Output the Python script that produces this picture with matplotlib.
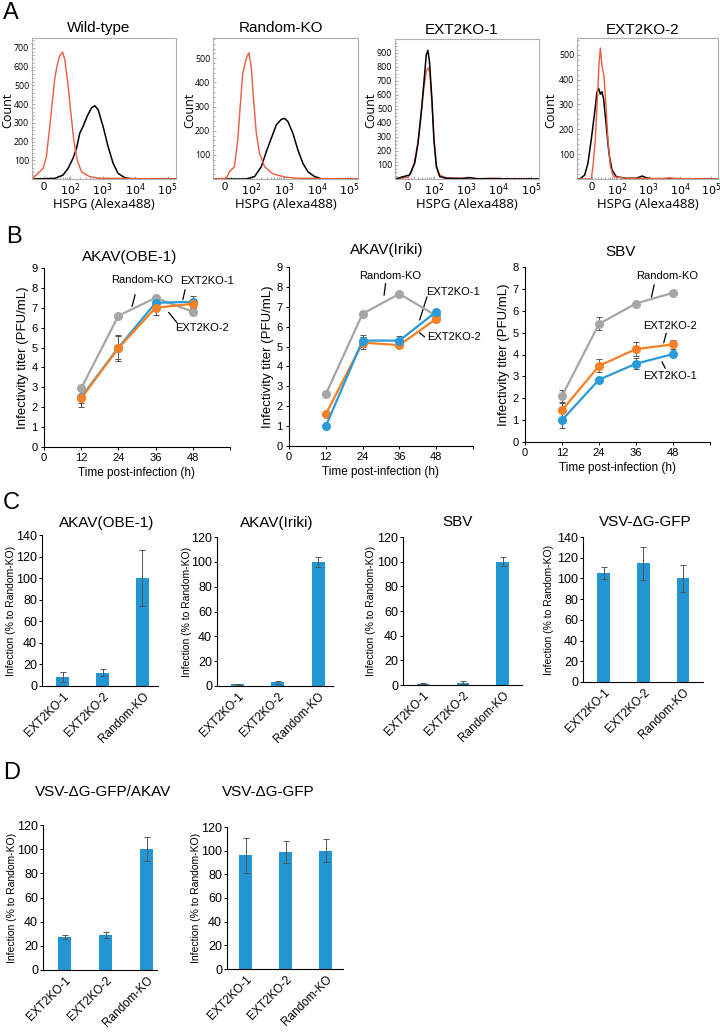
import matplotlib
matplotlib.use("Agg")
import matplotlib.pyplot as plt

# ---------------- data ----------------
hist_titles = ["Wild-type", "Random-KO", "EXT2KO-1", "EXT2KO-2"]

# panel A: flow cytometry histograms (intensity, count)
wt_ctrl_x = [-34, -1, 9, 17, 28, 33, 39, 47, 58, 68, 82, 102, 128, 163, 221, 400, 811, 180000]
wt_ctrl_y = [0, 57, 120, 245, 423, 530, 602, 655, 677, 637, 530, 370, 209, 102, 39, 12, 4, 0]
wt_hspg_x = [-34, 33, 60, 86, 122, 156, 197, 248, 330, 451, 569, 720, 1026, 1462, 2083, 2968, 4755, 8590, 180000]
wt_hspg_y = [0, 3, 21, 57, 111, 164, 245, 280, 334, 379, 391, 370, 280, 173, 84, 30, 7, 0, 0]

rko_ctrl_x = [-34, 5, 15, 30, 38, 45, 54, 69, 83, 98, 116, 140, 176, 251, 451, 1159, 2960, 180000]
rko_ctrl_y = [0, 3, 30, 51, 162, 300, 438, 500, 523, 465, 327, 189, 106, 51, 21, 7, 3, 0]
rko_hspg_x = [-34, 69, 124, 199, 283, 403, 573, 815, 1028, 1297, 1844, 2622, 3727, 5300, 8490, 13600, 180000]
rko_hspg_y = [0, 0, 10, 51, 113, 169, 224, 247, 251, 238, 189, 120, 65, 30, 10, 1, 0]

ko1_ctrl_x = [-38, 0, 10, 21, 31, 39, 47, 56, 64, 72, 84, 97, 115, 146, 237, 3000, 6600, 15000, 180000]
ko1_ctrl_y = [0, 12, 45, 130, 270, 480, 650, 770, 795, 760, 540, 280, 100, 28, 8, 2, 6, 2, 0]
ko1_hspg_x = [-38, 5, 21, 31, 39, 47, 56, 63, 71, 84, 97, 115, 146, 237, 700, 1268, 2000, 180000]
ko1_hspg_y = [0, 29, 112, 255, 470, 685, 888, 919, 828, 566, 279, 88, 17, 5, 3, 10, 2, 0]

ko2_ctrl_x = [-44, -1, 4.3, 12, 18.4, 23.5, 28, 32.2, 37.3, 42.2, 50, 59.8, 76, 194, 3000, 4650, 7000, 165000]
ko2_ctrl_y = [0, 0, 50, 159, 321, 457, 527, 457, 416, 321, 159, 50, 9, 3, 2, 5, 2, 0]
ko2_hspg_x = [-44, -36, -22, -11.6, -1, 9.8, 17.1, 22.6, 28, 32.2, 36.5, 44.4, 53.9, 67, 93, 194, 404, 628, 846, 1370, 165000]
ko2_hspg_y = [0, 0, 16, 64, 159, 267, 348, 364, 341, 351, 321, 213, 104, 37, 9, 3, 3, 12, 5, 0, 0]

hist_ymax = [752, 584, 1000, 567]
hist_yticks = [range(100, 701, 100), range(100, 501, 100), range(100, 901, 100), range(100, 501, 100)]

# panel B: growth curves (log10 PFU/mL)
time_h = [12, 24, 36, 48]
obe_rko = [2.95, 6.6, 7.5, 6.8]
obe_rko_err = [0.1, 0.05, 0.1, 0.15]
obe_ko1 = [2.5, 5.0, 7.25, 7.3]
obe_ko1_err = [0.3, 0.6, 0.3, 0.3]
obe_ko2 = [2.45, 4.97, 7.0, 7.2]
obe_ko2_err = [0.43, 0.65, 0.35, 0.15]

iriki_rko = [2.6, 6.65, 7.65, 6.55]
iriki_rko_err = [0.08, 0.15, 0.05, 0.1]
iriki_ko1 = [1.0, 5.3, 5.3, 6.75]
iriki_ko1_err = [0.05, 0.3, 0.25, 0.1]
iriki_ko2 = [1.6, 5.2, 5.07, 6.4]
iriki_ko2_err = [0.15, 0.3, 0.15, 0.15]

sbv_rko = [2.1, 5.4, 6.33, 6.82]
sbv_rko_err = [0.28, 0.3, 0.08, 0.05]
sbv_ko1 = [1.0, 2.85, 3.58, 4.02]
sbv_ko1_err = [0.35, 0.1, 0.25, 0.1]
sbv_ko2 = [1.45, 3.48, 4.25, 4.46]
sbv_ko2_err = [0.35, 0.3, 0.3, 0.22]

# panels C / D: infection relative to Random-KO (%)
bar_labels = ["EXT2KO-1", "EXT2KO-2", "Random-KO"]
c_obe = [8.5, 12.5, 100]
c_obe_err = [4.5, 3, 26]
c_iriki = [1.5, 3, 100]
c_iriki_err = [0.5, 1, 4]
c_sbv = [1, 2, 100]
c_sbv_err = [0.5, 1, 3.5]
c_vsv = [105.5, 114.5, 100]
c_vsv_err = [6, 16, 13]
d_vsv_akav = [27.5, 29, 100]
d_vsv_akav_err = [1.5, 2.5, 10]
d_vsv = [96, 99, 100]
d_vsv_err = [15, 9, 9.5]

# ---------------- figure ----------------
W, H = 720, 1034
plt.rcParams["font.family"] = ["Liberation Sans", "DejaVu Sans"]
fig = plt.figure(figsize=(W / 100, H / 100), dpi=100)

GRAY = "#A6A6A6"
BLUE = "#2A9BD8"
ORANGE = "#F58025"
BAR = "#2196D3"
RED = "#EE5A40"
FLOW_FONT = ["Open Sans", "DejaVu Sans"]


def add_ax(l, t, r, b):
    return fig.add_axes([l / W, 1 - b / H, (r - l) / W, (b - t) / H])


def ftext(x, y, s, **kw):
    kw.setdefault("ha", "center")
    kw.setdefault("va", "center")
    fig.text(x / W, 1 - y / H, s, **kw)


# panel letters
for letter, (x, y) in zip("ABCD", [(11, 13), (14, 237), (11, 503), (12, 773)]):
    ftext(x, y, letter, fontsize=17)

# ===== A: histograms =====
hist_boxes = [(32, 38, 176, 179), (213, 38, 358, 179), (395, 39, 539, 179), (577, 38, 718, 179)]
hist_xlim = [(-34, 1.8e5), (-34, 1.8e5), (-38, 1.8e5), (-44, 1.65e5)]
hist_data = [
    (wt_ctrl_x, wt_ctrl_y, wt_hspg_x, wt_hspg_y),
    (rko_ctrl_x, rko_ctrl_y, rko_hspg_x, rko_hspg_y),
    (ko1_ctrl_x, ko1_ctrl_y, ko1_hspg_x, ko1_hspg_y),
    (ko2_ctrl_x, ko2_ctrl_y, ko2_hspg_x, ko2_hspg_y),
]
title_y = [28, 28, 30, 30]
ylab_x = [9, 191, 372, 552]
minor_x = [m * 10 ** k for k in range(1, 5) for m in range(2, 10)] + [-20, -10, 10, 20]

for i, box in enumerate(hist_boxes):
    ax = add_ax(*box)
    cx, cy, hx, hy = hist_data[i]
    if i == 2:
        ax.plot(cx, cy, color=RED, lw=1.0)
        ax.plot(hx, hy, color="black", lw=1.1)
    else:
        ax.plot(hx, hy, color="black", lw=1.1)
        ax.plot(cx, cy, color=RED, lw=1.0)
    ax.set_xscale("symlog", linthresh=30, linscale=0.27)
    ax.set_xlim(*hist_xlim[i])
    ax.set_ylim(0, hist_ymax[i])
    ax.set_xticks([0, 1e2, 1e3, 1e4, 1e5])
    ax.set_xticklabels(["0", "$10^2$", "$10^3$", "$10^4$", "$10^5$"], fontsize=8)
    ax.set_xticks(minor_x, minor=True)
    ax.set_yticks(list(hist_yticks[i]))
    ax.set_yticklabels([str(v) for v in hist_yticks[i]], fontsize=6.3, family=FLOW_FONT)
    ax.set_yticks(range(0, hist_ymax[i], 20 if hist_ymax[i] < 800 else 25), minor=True)
    ax.tick_params(which="both", direction="in", color="#999999", length=2, width=0.6, pad=2)
    ax.tick_params(which="minor", length=1.5)
    for sp in ax.spines.values():
        sp.set_color("#B0B0B0")
        sp.set_linewidth(0.8)
    ax.set_xlabel("HSPG (Alexa488)", fontsize=9.5, family=FLOW_FONT, labelpad=0)
    ftext((box[0] + box[2]) / 2 - 5, title_y[i], hist_titles[i], fontsize=11)
    ftext(ylab_x[i] - 1, 110, "Count", rotation=90, fontsize=9, family=FLOW_FONT)

# ===== B: growth curves =====
line_boxes = [(44, 268, 230, 447), (289, 267, 473, 446), (525, 267, 710, 442)]
line_sets = [
    [(obe_rko, obe_rko_err, GRAY), (obe_ko1, obe_ko1_err, BLUE), (obe_ko2, obe_ko2_err, ORANGE)],
    [(iriki_rko, iriki_rko_err, GRAY), (iriki_ko2, iriki_ko2_err, ORANGE), (iriki_ko1, iriki_ko1_err, BLUE)],
    [(sbv_rko, sbv_rko_err, GRAY), (sbv_ko1, sbv_ko1_err, BLUE), (sbv_ko2, sbv_ko2_err, ORANGE)],
]
line_titles = [("AKAV(OBE-1)", 130, 257), ("AKAV(Iriki)", 387, 250), ("SBV", 621, 252)]
line_ymax = [9, 9, 8]
# (label, text x, text y, leader start, leader end) in data units
line_notes = [
    [("Random-KO", 31.6, 8.42, (29.4, 7.66), (28.4, 7.07)),
     ("EXT2KO-1", 52.5, 8.33, (45.5, 7.91), (44.8, 7.41)),
     ("EXT2KO-2", 50.9, 6.0, (40.2, 6.77), (42.9, 6.25))],
    [("Random-KO", 33.1, 8.53, (31.5, 8.17), (31.0, 7.58)),
     ("EXT2KO-1", 53.5, 7.75, (45.0, 7.5), (42.6, 6.34)),
     ("EXT2KO-2", 53.8, 5.49, (42.6, 5.69), (44.2, 5.49))],
    [("Random-KO", 46.1, 7.6, (41.9, 7.19), (41.0, 6.62)),
     ("EXT2KO-2", 47.1, 5.31, (45.8, 4.97), (45.0, 4.54)),
     ("EXT2KO-1", 47.1, 3.01, (44.4, 3.67), (45.5, 3.37))],
]

for i, box in enumerate(line_boxes):
    ax = add_ax(*box)
    for vals, errs, col in line_sets[i]:
        ax.errorbar(time_h, vals, yerr=errs, color=col, lw=1.6, marker="o", ms=5.5,
                    ecolor="#555555", elinewidth=0.7, capsize=2, capthick=0.7, zorder=3)
    ax.set_xlim(0, 60)
    ax.set_ylim(0, line_ymax[i])
    ax.set_xticks([0, 12, 24, 36, 48])
    ax.set_xticks([60], minor=True)
    ax.set_yticks(range(0, line_ymax[i] + 1))
    ax.tick_params(which="both", labelsize=8, length=2.5, width=0.7, pad=2)
    for sp in ["top", "right"]:
        ax.spines[sp].set_visible(False)
    for sp in ["left", "bottom"]:
        ax.spines[sp].set_linewidth(0.8)
    ax.set_xlabel("Time post-infection (h)", fontsize=8.5, labelpad=3)
    ax.set_ylabel("Infectivity titer (PFU/mL)", fontsize=9.5, labelpad=2)
    for lab, tx, ty, p0, p1 in line_notes[i]:
        ax.text(tx, ty, lab, fontsize=8, ha="center", va="center", clip_on=False)
        ax.annotate("", xy=p1, xytext=p0,
                    arrowprops=dict(arrowstyle="-", color="black", lw=0.9,
                                    shrinkA=0, shrinkB=0))
    t, tx, ty = line_titles[i]
    ftext(tx, ty, t, fontsize=11)

# ===== C / D: bar charts =====
bar_boxes = [
    (42, 535, 158, 686), (217, 537, 333, 686), (403, 537, 522, 685), (583, 537, 703, 682),
    (43, 825, 157, 970), (227, 827, 343, 969),
]
bar_sets = [
    (c_obe, c_obe_err, 140), (c_iriki, c_iriki_err, 120), (c_sbv, c_sbv_err, 120),
    (c_vsv, c_vsv_err, 140), (d_vsv_akav, d_vsv_akav_err, 120), (d_vsv, d_vsv_err, 120),
]
bar_titles = [
    ("AKAV(OBE-1)", 107, 523), ("AKAV(Iriki)", 277, 523), ("SBV", 458, 522),
    ("VSV-ΔG-GFP", 645, 522), ("VSV-ΔG-GFP/AKAV", 103, 792), ("VSV-ΔG-GFP", 268, 792),
]
bar_xlim = [(-0.52, 2.39), (-0.51, 2.37), (-0.5, 2.48), (-0.52, 2.5), (-0.53, 2.25), (-0.47, 2.43)]
bar_ylab_x = [11, 187, 371, 549, 12, 196]

for i, box in enumerate(bar_boxes):
    ax = add_ax(*box)
    vals, errs, ymax = bar_sets[i]
    ax.bar(range(len(bar_labels)), vals, width=0.32, color=BAR, zorder=2)
    ax.errorbar(range(len(bar_labels)), vals, yerr=errs, fmt="none", ecolor="#555555",
                elinewidth=0.7, capsize=2, capthick=0.7, zorder=3)
    ax.set_xlim(*bar_xlim[i])
    ax.set_ylim(0, ymax)
    ax.set_yticks(range(0, ymax + 1, 20))
    ax.set_xticks(range(len(bar_labels)))
    ax.set_xticklabels(bar_labels, rotation=45, ha="right", rotation_mode="anchor", fontsize=8.5)
    ax.tick_params(axis="y", labelsize=9, length=2.5, width=0.7, pad=1)
    ax.tick_params(axis="x", length=0, pad=3)
    for sp in ["top", "right"]:
        ax.spines[sp].set_visible(False)
    for sp in ["left", "bottom"]:
        ax.spines[sp].set_linewidth(0.8)
    t, tx, ty = bar_titles[i]
    ftext(tx, ty, t, fontsize=11)
    ftext(bar_ylab_x[i], (box[1] + box[3]) / 2, "Infection (% to Random-KO)",
          rotation=90, fontsize=7.5)

fig.savefig("out.png", dpi=100)
